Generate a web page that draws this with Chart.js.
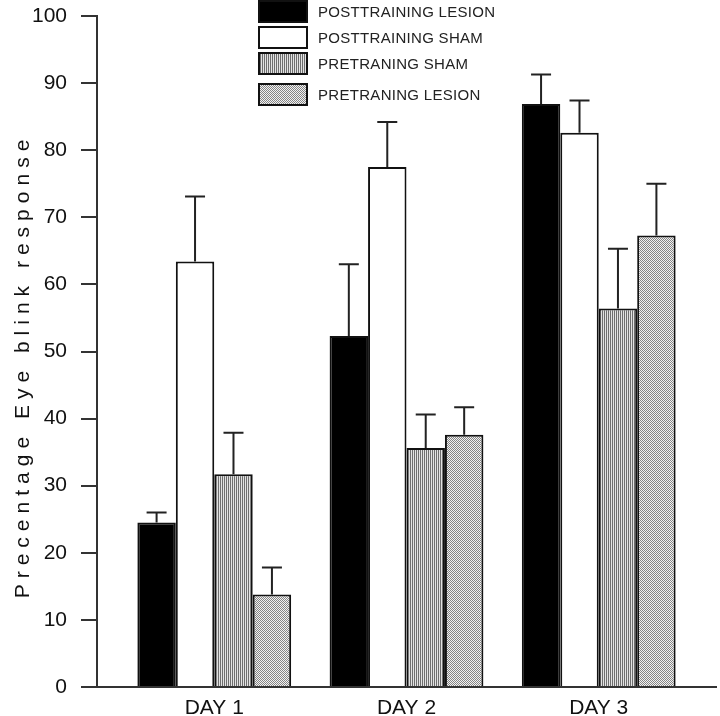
<!DOCTYPE html>
<html>
<head>
<meta charset="utf-8">
<script src="https://cdn.jsdelivr.net/npm/chart.js@4/dist/chart.umd.min.js"></script>
<style>
  body { margin: 0; background: #fff; }
  canvas { display: block; }
</style>
</head>
<body>
<canvas id="chart" width="720" height="716"></canvas>
<script>
const days = ["DAY 1", "DAY 2", "DAY 3"];
const seriesNames = ["POSTTRAINING LESION", "POSTTRAINING SHAM", "PRETRANING SHAM", "PRETRANING LESION"];

const postLesion = [24.5, 52.3, 86.9];
const postLesionErr = [1.5, 10.7, 4.4];
const postSham = [63.4, 77.5, 82.6];
const postShamErr = [9.7, 6.7, 4.8];
const preSham = [31.7, 35.6, 56.4];
const preShamErr = [6.2, 5.0, 8.9];
const preLesion = [13.8, 37.6, 67.3];
const preLesionErr = [4.0, 4.1, 7.7];

const yTitle = "Precentage Eye blink response";
const yMin = 0, yMax = 100, yStep = 10;

const FONT = "'Liberation Sans', Arial, Helvetica, sans-serif";

function makePattern(w, h, draw) {
  const c = document.createElement("canvas");
  c.width = w; c.height = h;
  draw(c.getContext("2d"));
  return document.getElementById("chart").getContext("2d").createPattern(c, "repeat");
}
const stripes = makePattern(2, 1, g => {
  g.fillStyle = "#6e6e6e"; g.fillRect(0, 0, 1, 1);
  g.fillStyle = "#e2e2e2"; g.fillRect(1, 0, 1, 1);
});
const checker = makePattern(2, 2, g => {
  g.fillStyle = "#f2f2f2"; g.fillRect(0, 0, 2, 2);
  g.fillStyle = "#858585"; g.fillRect(0, 0, 1, 1); g.fillRect(1, 1, 1, 1);
});

const toPoints = vals => vals.map((v, i) => ({ x: i + 1, y: v }));

function ds(label, vals, errs, fill) {
  return {
    label,
    data: toPoints(vals),
    errors: errs,
    backgroundColor: fill,
    borderColor: "#111",
    borderWidth: 2,
    barPercentage: 1,
    categoryPercentage: 0.8
  };
}

const errorBars = {
  id: "errorBars",
  afterDatasetsDraw(chart) {
    const { ctx } = chart;
    const y = chart.scales.y;
    ctx.save();
    ctx.strokeStyle = "#222";
    ctx.lineWidth = 2;
    chart.data.datasets.forEach((d, di) => {
      chart.getDatasetMeta(di).data.forEach((bar, i) => {
        const top = y.getPixelForValue(d.data[i].y + d.errors[i]);
        ctx.beginPath();
        ctx.moveTo(bar.x, bar.y);
        ctx.lineTo(bar.x, top);
        ctx.moveTo(bar.x - 10, top);
        ctx.lineTo(bar.x + 10, top);
        ctx.stroke();
      });
    });
    ctx.restore();
  }
};

const legendBoxes = {
  id: "legendBoxes",
  afterDraw(chart) {
    const { ctx } = chart;
    const tops = [1, 27, 53, 84];
    ctx.save();
    chart.data.datasets.forEach((d, i) => {
      ctx.fillStyle = d.backgroundColor;
      ctx.fillRect(259, tops[i], 48, 21);
      ctx.strokeStyle = "#111";
      ctx.lineWidth = 2;
      ctx.strokeRect(259, tops[i], 48, 21);
      ctx.fillStyle = "#222";
      ctx.font = "15px " + FONT;
      ctx.letterSpacing = "0.3px";
      ctx.textBaseline = "middle";
      ctx.textAlign = "left";
      ctx.fillText(d.label, 318, tops[i] + 12);
    });
    // y axis title, spaced out like the original
    ctx.translate(29, 369);
    ctx.rotate(-Math.PI / 2);
    ctx.font = "21px " + FONT;
    ctx.letterSpacing = "6px";
    ctx.textAlign = "center";
    ctx.textBaseline = "alphabetic";
    ctx.fillStyle = "#111";
    ctx.fillText(yTitle, 3, 0);
    ctx.restore();
  }
};

new Chart(document.getElementById("chart"), {
  type: "bar",
  data: {
    datasets: [
      ds(seriesNames[0], postLesion, postLesionErr, "#000"),
      ds(seriesNames[1], postSham, postShamErr, "#fff"),
      ds(seriesNames[2], preSham, preShamErr, stripes),
      ds(seriesNames[3], preLesion, preLesionErr, checker)
    ]
  },
  options: {
    responsive: false,
    animation: false,
    devicePixelRatio: 1,
    layout: { padding: { top: 16, right: 4, left: 0, bottom: 0 } },
    plugins: { legend: { display: false }, tooltip: { enabled: false } },
    scales: {
      x: {
        type: "linear",
        offset: false,
        min: 0.39,
        max: 3.61,
        afterBuildTicks: s => { s.ticks = days.map((_, i) => ({ value: i + 1 })); },
        afterFit: s => { s.height = 29; s.paddingLeft = 0; s.paddingRight = 0; },
        grid: { display: false, drawTicks: false },
        border: { color: "#333", width: 2 },
        ticks: {
          padding: 9,
          color: "#111",
          font: { family: FONT, size: 21 },
          callback: v => days[v - 1]
        }
      },
      y: {
        min: yMin,
        max: yMax,
        afterFit: s => { s.width = 97; s.paddingTop = 0; s.paddingBottom = 0; },
        grid: { drawOnChartArea: false, tickLength: 16, color: "#333", lineWidth: 2 },
        border: { color: "#333", width: 2 },
        ticks: {
          stepSize: yStep,
          padding: 14,
          color: "#111",
          font: { family: FONT, size: 21 }
        }
      }
    }
  },
  plugins: [errorBars, legendBoxes]
});
</script>
</body>
</html>
